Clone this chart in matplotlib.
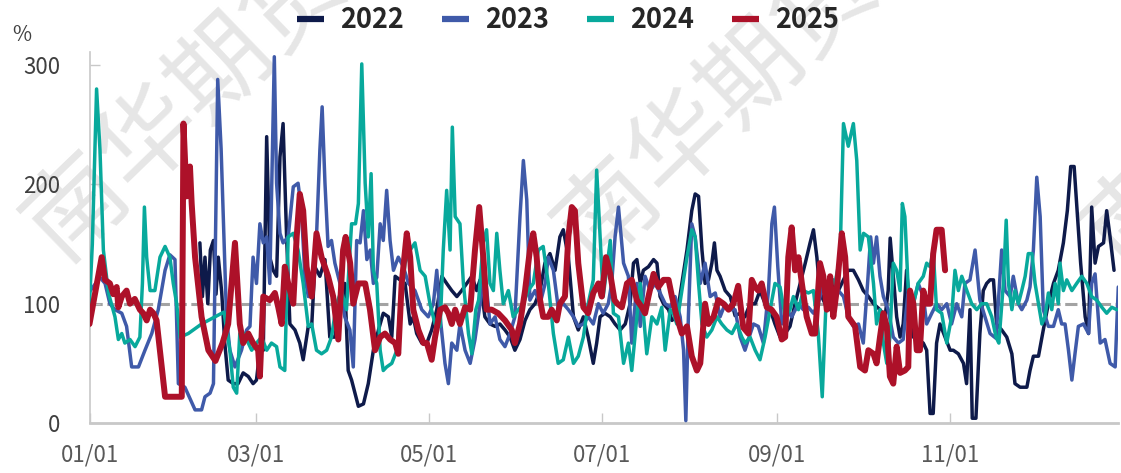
import datetime as dt

import numpy as np
import matplotlib
matplotlib.use("Agg")
import matplotlib.pyplot as plt

plt.rcParams['font.family'] = ['Noto Sans CJK SC', 'DejaVu Sans']

years = ["2022", "2023", "2024", "2025"]
colors = ["#0e1a4a", "#3f5aa9", "#08a99c", "#ad1129"]
widths = [2.5, 2.5, 2.5, 4.3]

# x = days since 01/01, y = %
days_2022 = [39, 39.9, 40.8, 41.8, 42.7, 43.8, 44.7, 45.5, 46.7, 47.8,
             49, 50.8, 52.5, 54.3, 56.1, 57.8, 59, 60.2, 61.4, 62.6,
             63.7, 64.9, 66.1, 67.3, 68.4, 69.6, 70.8, 72.6, 74.3, 75.5,
             77.3, 78.5, 79.6, 81.4, 83.2, 84.9, 86.7, 88.5, 90.2, 91.4,
             92.6, 93.8, 95, 96.8, 98.5, 100.3, 102.1, 103.8, 105.6, 106.8,
             108, 109.7, 111.5, 113.3, 114.4, 115.6, 117.4, 119.2, 120.9, 122.7,
             124.5, 126.2, 128, 129.8, 131.5, 133.3, 135.1, 136.8, 138, 139.7,
             141.5, 143.3, 145, 146.8, 148.6, 150.3, 152.1, 153.9, 155.6, 157.4,
             159.2, 160.9, 162.7, 164.5, 166.2, 167.4, 169.2, 171, 172.7, 174.5,
             176.2, 178, 179.2, 180.4, 182.1, 184, 185.7, 187.5, 189.3, 191,
             192.2, 193.4, 194.6, 195.7, 197.5, 199.3, 200.5, 201.6, 202.8, 204.6,
             205.8, 207.5, 209.3, 211.1, 212.8, 214, 215.2, 216.4, 217.5, 218.7,
             219.9, 220.8, 221.7, 222.8, 224.6, 226.4, 228.1, 229.9, 231.6, 233.4,
             235.2, 236.9, 238.7, 240.5, 242.2, 244, 245.8, 247.5, 249.3, 251.1,
             252.9, 254.6, 255.8, 257, 258.1, 259.9, 261.7, 262.8, 264.6, 266.4,
             268.1, 269.9, 271.7, 273.4, 275.2, 277, 279.3, 281.1, 282.2, 282.9,
             284, 285.2, 286.4, 287.5, 288.7, 289.9, 291.1, 292.8, 294.6, 295.8,
             297, 298.1, 299.3, 300.5, 302.3, 304.1, 305.2, 307, 308.8, 309.9,
             311.1, 311.9, 313.2, 314.6, 315.8, 317, 318.2, 319.4, 320.5, 322.3,
             324.1, 325.9, 327, 328.8, 331.2, 332.3, 333.5, 335.3, 337, 338.8,
             340.6, 342.3, 344.1, 345.5, 346.7, 347.9, 349.1, 350.2, 351.8, 353,
             354.1, 355.3, 356.5, 358.3, 359.4, 360.6, 362]
vals_2022 = [151, 106, 139, 100, 145, 153, 108, 139, 110, 67,
             36, 33, 33, 42, 39, 33, 36, 61, 61, 240,
             139, 128, 123, 223, 251, 159, 83, 78, 67, 53,
             81, 81, 131, 123, 137, 72, 72, 100, 117, 44,
             36, 25, 14, 16, 33, 61, 78, 92, 89, 72,
             123, 120, 117, 83, 89, 75, 67, 67, 78, 95,
             123, 117, 111, 106, 111, 117, 123, 111, 120, 89,
             83, 81, 83, 78, 72, 61, 70, 86, 95, 100,
             111, 134, 142, 128, 156, 162, 139, 89, 78, 89,
             72, 50, 67, 89, 92, 89, 83, 78, 83, 100,
             134, 137, 117, 128, 131, 137, 134, 106, 100, 95,
             86, 89, 117, 145, 178, 192, 190, 145, 117, 120,
             134, 151, 128, 123, 111, 106, 90, 92, 89, 100,
             100, 111, 100, 95, 83, 72, 75, 81, 100, 117,
             134, 151, 162, 139, 109, 100, 95, 117, 111, 120,
             128, 128, 120, 111, 106, 100, 95, 89, 111, 155,
             123, 89, 72, 83, 128, 95, 72, 70, 67, 61,
             8, 8, 67, 83, 72, 61, 61, 58, 50, 33,
             95, 4, 4, 75, 111, 117, 120, 120, 83, 78,
             72, 58, 33, 30, 30, 44, 56, 56, 78, 100,
             117, 128, 151, 178, 215, 215, 173, 134, 89, 75,
             181, 134, 148, 151, 178, 156, 128]

days_2023 = [0, 3.7, 5.5, 7.2, 9, 11.4, 13.1, 14.9, 17.3, 19.6,
             22, 24.3, 26.7, 28.4, 30.2, 31.4, 33.7, 37.3, 39.6, 40.8,
             42.6, 43.8, 45.3, 46.5, 48.4, 49.6, 51.4, 53.7, 55.5, 56.7,
             57.8, 59, 60.2, 61.4, 62.6, 63.7, 65.3, 66.1, 67.3, 68.4,
             70.2, 72, 73.7, 74.9, 76.1, 77.3, 79, 80.2, 81.4, 82.2,
             83.2, 84.3, 85.5, 86.7, 88.5, 90.2, 92, 93.2, 94.4, 95.6,
             96.8, 98, 99.2, 100.3, 101.5, 102.7, 103.8, 105, 106.2, 107.4,
             109.1, 110.9, 112.7, 115, 117.4, 119.7, 121.5, 122.7, 123.9, 125.6,
             126.8, 128, 129.8, 130.9, 132.7, 134.5, 136.2, 138, 139.7, 141.5,
             143.3, 145, 146.8, 148.6, 150.3, 152.1, 153.3, 154.5, 155.6, 157.4,
             159.2, 161, 162.1, 163.9, 165.6, 167.4, 169.2, 171, 172.7, 174.5,
             176.2, 178, 179.8, 181.5, 183.3, 184.5, 185.7, 186.9, 188.7, 190.4,
             191.6, 193.4, 194.6, 196.3, 198.1, 199.9, 201.6, 203.4, 205.2, 206.9,
             208.7, 209.9, 210.7, 211.6, 212.8, 214, 215.8, 217.5, 219.3, 221.1,
             222.8, 224.6, 226.4, 228.1, 229.9, 231.6, 232.8, 234.6, 236.3, 238.1,
             239.9, 241.1, 242, 243.2, 244.6, 246.4, 248.1, 250.5, 252.2, 254,
             255.8, 257.5, 259.3, 261.1, 262.8, 264.6, 266.4, 268.1, 269.9, 271.7,
             273.4, 275, 276, 277, 278.1, 279.3, 280.5, 282.2, 284, 285.8,
             287.5, 289.3, 291.1, 292.8, 294.6, 295.8, 297.6, 299.3, 301.1, 302.9,
             304.6, 306.4, 308.2, 309.3, 311.1, 312.9, 314.6, 316.4, 318.2, 320.3,
             322.3, 323.5, 325.3, 326.4, 328.2, 329.4, 331.2, 332.3, 333.5, 334.7,
             335.9, 337, 338.8, 340.6, 342.3, 343.5, 344.7, 345.9, 347.1, 348.2,
             349.4, 351.2, 353, 354.1, 355.3, 357.1, 358.8, 360.6, 362.4, 363.5]
vals_2023 = [110, 122, 117, 100, 95, 92, 81, 47, 47, 61,
             75, 95, 128, 141, 137, 33, 30, 11, 11, 22,
             25, 33, 288, 230, 89, 61, 47, 61, 78, 81,
             139, 117, 167, 151, 156, 117, 307, 201, 159, 151,
             156, 198, 201, 178, 123, 106, 117, 156, 229, 265,
             201, 148, 153, 134, 117, 89, 78, 47, 153, 151,
             178, 137, 145, 117, 122, 167, 153, 195, 153, 128,
             139, 131, 117, 111, 95, 89, 100, 128, 89, 50,
             33, 67, 61, 83, 61, 50, 70, 100, 128, 83,
             89, 70, 64, 75, 89, 173, 220, 187, 103, 111,
             100, 117, 139, 128, 97, 100, 95, 89, 81, 83,
             89, 83, 100, 92, 100, 117, 156, 181, 134, 123,
             67, 117, 81, 123, 111, 117, 109, 100, 97, 106,
             89, 61, 2, 89, 167, 156, 117, 134, 106, 109,
             89, 100, 95, 95, 72, 61, 70, 83, 81, 67,
             111, 167, 181, 131, 83, 95, 89, 100, 95, 97,
             92, 100, 117, 109, 120, 111, 106, 89, 81, 83,
             67, 120, 156, 134, 156, 123, 106, 95, 72, 67,
             70, 111, 100, 117, 106, 83, 92, 100, 95, 100,
             83, 100, 89, 117, 120, 145, 103, 89, 75, 71,
             145, 111, 106, 123, 100, 95, 103, 114, 145, 206,
             173, 95, 81, 81, 95, 83, 83, 61, 36, 58,
             81, 83, 75, 117, 125, 67, 70, 50, 47, 114]

days_2024 = [0, 1, 2.5, 3.7, 4.9, 6.7, 9, 10.2, 11.4, 12.5,
             14.3, 16.1, 17.8, 18.7, 19.4, 20.2, 21.4, 23.1, 24.9, 26.7,
             28.4, 29.6, 30.8, 32, 34.9, 39.6, 44.3, 47.5, 49.6, 50.8,
             52, 53.1, 54.9, 56.1, 57.3, 59, 60.8, 62.6, 64.3, 66.1,
             67.3, 69, 70.2, 72, 73.7, 75.5, 77.3, 78.5, 80.2, 82,
             83.8, 85.5, 87.3, 89, 90.8, 92.6, 94, 95, 96.2, 97.4,
             98.5, 99.5, 100.3, 101.5, 102.7, 103.8, 105, 106.8, 108.6, 109.7,
             111.5, 113.3, 115, 116.8, 118.6, 120.3, 122.1, 123.9, 125, 126.2,
             127.4, 128.2, 129.2, 130.9, 132.1, 133.9, 135.1, 136.5, 137.5, 139.1,
             140.3, 141.5, 142.7, 143.9, 145, 146.2, 148, 149.7, 151.5, 153.3,
             155, 156.8, 158.6, 160.3, 162.1, 163.9, 165.6, 167.4, 169.2, 171,
             172.7, 174.5, 176.2, 178, 179.2, 180.4, 181.5, 182.7, 184, 185.1,
             186.9, 188.7, 190.4, 191.6, 193.4, 194.6, 195.8, 196.9, 198.7, 200.5,
             202.2, 203.4, 205.2, 206.3, 207.5, 209.3, 211.1, 212.8, 214, 215.2,
             216.4, 218.1, 219.9, 221.7, 223.4, 225.2, 227, 228.7, 230.5, 231.6,
             233.4, 235.2, 236.9, 238.7, 240.5, 242.2, 244, 245.8, 247.5, 248.7,
             250.5, 252.2, 254, 255.8, 257.5, 258.9, 260.5, 262.3, 263.4, 265.2,
             266.4, 268.1, 269.9, 271.1, 272.3, 273.5, 275.2, 277, 278.1, 279.3,
             280.5, 281.7, 282.8, 284, 285.2, 286.4, 287.2, 288.1, 289.3, 291.1,
             292.8, 294.6, 295.8, 297, 298.1, 299.3, 301.1, 302.9, 304.6, 305.8,
             307, 308.2, 310, 311.7, 313.5, 315.2, 317, 318.8, 320.3, 321.3,
             322.9, 323.9, 324.7, 325.9, 327, 328.2, 329.4, 330.6, 331.7, 333,
             334.1, 335.3, 336.5, 337.6, 338.8, 340, 341.2, 342.3, 342.9, 344.1,
             345.3, 347.1, 348.8, 350.6, 352.4, 354.1, 355.9, 357.7, 359.4, 361.2, 363]
vals_2024 = [100, 150, 280, 229, 145, 109, 89, 70, 75, 67,
             70, 64, 72, 117, 181, 139, 111, 111, 139, 148,
             139, 117, 100, 72, 75, 83, 89, 93, 61, 30,
             25, 75, 75, 67, 61, 67, 72, 61, 67, 64,
             47, 44, 156, 159, 145, 117, 81, 83, 61, 58,
             61, 72, 100, 111, 95, 167, 167, 184, 301, 201,
             156, 209, 128, 117, 61, 44, 47, 50, 61, 95,
             134, 145, 151, 128, 123, 100, 83, 81, 145, 195,
             145, 248, 173, 167, 117, 75, 58, 95, 103, 151,
             162, 117, 111, 159, 128, 100, 111, 89, 95, 100,
             111, 117, 145, 148, 117, 75, 50, 53, 72, 50,
             56, 72, 100, 120, 212, 156, 106, 128, 153, 92,
             89, 50, 67, 44, 89, 117, 89, 58, 89, 83,
             97, 61, 95, 92, 83, 111, 139, 162, 156, 117,
             83, 72, 78, 89, 83, 78, 75, 83, 72, 67,
             72, 61, 53, 72, 95, 117, 114, 89, 95, 106,
             95, 111, 109, 111, 75, 22, 117, 120, 117, 139,
             251, 232, 251, 220, 145, 159, 156, 117, 83, 95,
             67, 50, 72, 134, 128, 111, 184, 173, 111, 100,
             117, 123, 134, 131, 145, 95, 92, 67, 89, 128,
             111, 123, 111, 100, 95, 100, 100, 89, 72, 67,
             117, 170, 117, 95, 111, 100, 111, 123, 142, 142,
             117, 100, 83, 89, 109, 95, 117, 100, 134, 111,
             120, 111, 117, 123, 117, 106, 103, 97, 92, 97, 95]

days_2025 = [0, 4.3, 5.5, 7.2, 8.4, 9.6, 10.2, 11.4, 13.1, 14.3,
             16, 17.8, 19, 20.2, 21.4, 22.6, 23.7, 26.7, 32.6, 33.2,
             34.3, 35.5, 36.1, 37.3, 39.6, 42, 44.5, 47, 49, 51.4,
             53.1, 54.3, 56.1, 57.8, 59.6, 60.2, 61.4, 63.7, 65.5, 66.7,
             67.9, 69, 70.2, 72, 73.2, 74.3, 75.5, 76.7, 78.5, 80.2,
             82, 84.3, 86.1, 87.9, 89.6, 90.5, 92.1, 93.2, 95, 97.4,
             99.1, 100.9, 102.7, 104.4, 106.2, 108, 109.1, 110.3, 112.1, 113.3,
             114.4, 116.2, 118, 119.2, 120.9, 122.1, 123.9, 125.6, 126.8, 128,
             129.2, 130.9, 132.7, 134.5, 136.2, 137.7, 139.3, 140.3, 142.1, 144.4,
             146.8, 149.2, 150.3, 152.1, 153.9, 155.6, 156.8, 158, 159.2, 160.3,
             162.1, 163.3, 165.1, 166.2, 168, 169.2, 170.4, 171.5, 172.7, 174.5,
             176.2, 178, 179.8, 181, 182.5, 184, 185.5, 186.5, 188.1, 189.9,
             191.6, 193.4, 195.2, 196.3, 197.5, 199.3, 201, 202.8, 204.6, 205.8,
             207.5, 209.3, 211.1, 212.8, 214.6, 215.8, 217.5, 218.7, 220.5, 222.2,
             224, 225.8, 227.5, 229.2, 231, 232.8, 234, 235.2, 236.3, 237.5,
             239.3, 241, 242.8, 244.6, 245.8, 246.9, 248.1, 249.3, 250.5, 251.7,
             253.4, 255.2, 256.4, 258.1, 259.3, 260.5, 261.7, 262.8, 264, 265.8,
             267, 268.1, 270.5, 272.3, 274, 275.2, 277, 278.1, 279.3, 280.5,
             281.7, 282.8, 284, 285.2, 286.4, 288.1, 289.3, 289.9, 291.1, 292.3,
             293.4, 294.6, 295.8, 297, 298.1, 299.3, 301.1, 302.3]
vals_2025 = [83, 139, 120, 117, 108, 114, 97, 106, 111, 100,
             104, 95, 92, 86, 95, 92, 86, 22, 22, 251,
             190, 215, 184, 139, 89, 61, 52, 67, 83, 151,
             83, 67, 75, 67, 61, 39, 106, 103, 109, 97,
             83, 131, 117, 100, 156, 192, 178, 131, 106, 159,
             139, 123, 106, 70, 145, 156, 134, 100, 117, 117,
             95, 61, 72, 75, 70, 67, 58, 117, 159, 139,
             95, 78, 67, 67, 53, 72, 95, 97, 92, 83,
             95, 83, 97, 95, 145, 181, 134, 95, 95, 92,
             86, 78, 67, 83, 111, 145, 159, 139, 103, 89,
             89, 95, 86, 100, 106, 156, 181, 178, 134, 97,
             92, 109, 117, 106, 139, 125, 103, 100, 97, 117,
             120, 103, 97, 92, 106, 125, 114, 120, 120, 106,
             89, 75, 81, 56, 44, 50, 100, 83, 89, 103,
             100, 95, 100, 115, 80, 75, 120, 114, 111, 117,
             97, 95, 89, 70, 72, 139, 164, 128, 139, 117,
             89, 75, 75, 134, 123, 95, 123, 89, 111, 159,
             139, 89, 81, 47, 44, 61, 58, 50, 72, 92,
             81, 39, 33, 64, 42, 44, 47, 111, 100, 61,
             61, 111, 100, 100, 142, 162, 162, 128]

series_days = [days_2022, days_2023, days_2024, days_2025]
series_vals = [vals_2022, vals_2023, vals_2024, vals_2025]

tick_months = [1, 3, 5, 7, 9, 11]
y_ticks = [0, 100, 200, 300]
ref_level = 100

W, H = 1121, 473
fig = plt.figure(figsize=(W / 100, H / 100), dpi=100)

# watermark
for cx, cy in [(185, 103), (716, 108), (1245, 110)]:
    fig.text(cx / W, 1 - cy / H, "南华期货", rotation=44, ha="center", va="center",
             fontsize=72, color="#e6e6e6", zorder=-5)

ax = fig.add_axes([89.5 / W, 50 / H, (1118 - 89.5) / W, (423 - 52) / H])
ax.set_facecolor("none")

ax.axhline(ref_level, color="#a3a3a3", lw=2.2, ls=(0, (4, 1.5)), zorder=1)

lines = []
for i in range(4):
    ln, = ax.plot(np.array(series_days[i]), np.array(series_vals[i]), color=colors[i],
                  lw=widths[i], solid_joinstyle="round", solid_capstyle="round",
                  label=years[i], zorder=2 + i)
    lines.append(ln)

ax.set_xlim(0, 363.4)
ax.set_ylim(0, 311)

start = dt.date(2025, 1, 1)
xt = [(dt.date(2025, m, 1) - start).days for m in tick_months]
ax.set_xticks(xt)
ax.set_xticklabels(["%02d/01" % m for m in tick_months])
ax.set_yticks(y_ticks)

for s in ["top", "right"]:
    ax.spines[s].set_visible(False)
ax.spines["left"].set_color("#c8c8c8")
ax.spines["left"].set_linewidth(1.2)
ax.spines["bottom"].set_color("#c8c8c8")
ax.spines["bottom"].set_linewidth(2.0)

ax.tick_params(axis="x", direction="in", length=7, width=1, color="#c8c8c8",
               labelsize=16, labelcolor="#595959", pad=15)
ax.tick_params(axis="y", direction="in", length=7, width=1, color="#c8c8c8",
               labelsize=16, labelcolor="#404040", pad=21)

fig.text(22 / W, 1 - 35 / H, "%", ha="center", va="center", fontsize=15, color="#404040")

leg = fig.legend(handles=lines, loc="center", bbox_to_anchor=(568 / W, 1 - 20 / H),
                 ncol=4, frameon=False, handlelength=1.0, handletextpad=0.6,
                 columnspacing=1.4, prop={"size": 19.5, "weight": "bold"})
for t in leg.get_texts():
    t.set_color("#262626")
for h in leg.legend_handles:
    h.set_linewidth(4.5)
    h.set_solid_capstyle("butt")

fig.savefig("out.png", dpi=100)
